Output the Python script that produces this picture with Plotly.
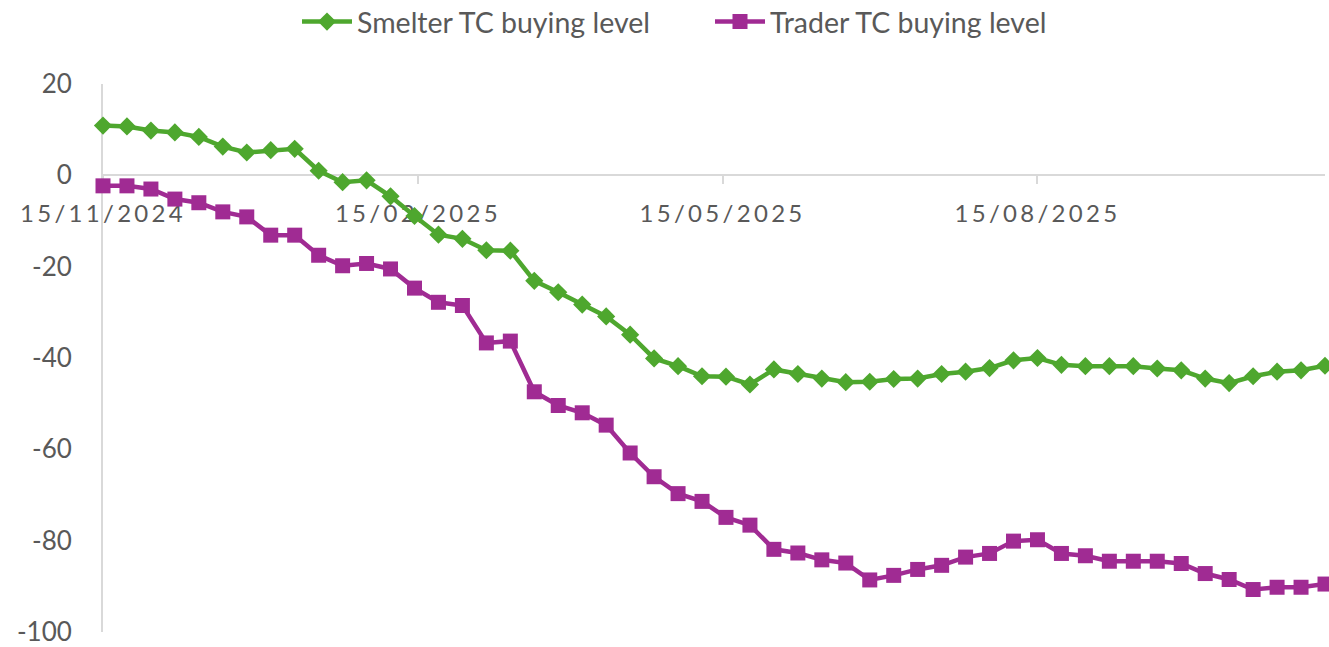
import plotly.graph_objects as go

# weekly observation dates
dates = [
    "2024-11-15", "2024-11-22", "2024-11-29", "2024-12-06", "2024-12-13", "2024-12-20", "2024-12-27",
    "2025-01-03", "2025-01-10", "2025-01-17", "2025-01-24", "2025-01-31",
    "2025-02-07", "2025-02-14", "2025-02-21", "2025-02-28",
    "2025-03-07", "2025-03-14", "2025-03-21", "2025-03-28",
    "2025-04-04", "2025-04-11", "2025-04-18", "2025-04-25",
    "2025-05-02", "2025-05-09", "2025-05-16", "2025-05-23", "2025-05-30",
    "2025-06-06", "2025-06-13", "2025-06-20", "2025-06-27",
    "2025-07-04", "2025-07-11", "2025-07-18", "2025-07-25",
    "2025-08-01", "2025-08-08", "2025-08-15", "2025-08-22", "2025-08-29",
    "2025-09-05", "2025-09-12", "2025-09-19", "2025-09-26",
    "2025-10-03", "2025-10-10", "2025-10-17", "2025-10-24", "2025-10-31",
    "2025-11-07",
]

smelter = [
    10.9, 10.7, 9.8, 9.4, 8.4, 6.3, 5.0, 5.5, 5.8, 1.0,
    -1.5, -1.1, -4.6, -8.9, -13.0, -13.9, -16.4, -16.5, -23.1, -25.6,
    -28.3, -30.9, -34.9, -40.1, -41.8, -44.0, -44.1, -45.8, -42.5, -43.5,
    -44.5, -45.3, -45.2, -44.6, -44.5, -43.5, -43.0, -42.2, -40.5, -40.0,
    -41.5, -41.8, -41.8, -41.8, -42.3, -42.7, -44.5, -45.5, -44.0, -43.0,
    -42.7, -41.7,
]

trader = [
    -2.3, -2.3, -3.0, -5.2, -6.0, -8.0, -9.1, -13.1, -13.1, -17.5,
    -19.8, -19.3, -20.5, -24.7, -27.8, -28.5, -36.7, -36.3, -47.4, -50.4,
    -52.0, -54.7, -60.8, -66.0, -69.7, -71.4, -74.9, -76.6, -81.9, -82.7,
    -84.2, -84.9, -88.6, -87.6, -86.3, -85.4, -83.6, -82.8, -80.1, -79.8,
    -82.8, -83.3, -84.5, -84.5, -84.5, -85.0, -87.2, -88.5, -90.7, -90.2,
    -90.2, -89.5,
]

tick_dates = ["2024-11-15", "2025-02-15", "2025-05-15", "2025-08-15"]
tick_labels = ["15/11/2024", "15/02/2025", "15/05/2025", "15/08/2025"]
y_ticks = [20, 0, -20, -40, -60, -80, -100]

GREEN = "#4EA72E"
PURPLE = "#A02B93"
GREY_TXT = "#595959"
AXIS = "#D9D9D9"

fig = go.Figure()

fig.add_trace(go.Scatter(x=dates, y=smelter, mode="lines+markers",
                         name="Smelter TC buying level",
                         line=dict(color=GREEN, width=4.5),
                         marker=dict(symbol="diamond", size=14, color=GREEN),
                         cliponaxis=False))

fig.add_trace(go.Scatter(x=dates, y=trader, mode="lines+markers",
                         name="Trader TC buying level",
                         line=dict(color=PURPLE, width=4.5),
                         marker=dict(symbol="square", size=15, color=PURPLE),
                         cliponaxis=False))

fig.update_layout(
    width=1329, height=647,
    margin=dict(l=103, r=4, t=84, b=15, autoexpand=False),
    plot_bgcolor="white", paper_bgcolor="white",
    font=dict(family="Lato, sans-serif", color=GREY_TXT, size=25),
    showlegend=True,
    legend=dict(orientation="h", xref="container", yref="container",
                x=297 / 1329, xanchor="left", y=1 - 22 / 647, yanchor="middle",
                font=dict(size=28.5, color=GREY_TXT), itemwidth=50,
                entrywidth=348, tracegroupgap=0),
)

# x axis drawn at y = 0 (0 sits at 100/120 of the plot height); labels letter-spaced like the original
fig.update_xaxes(type="date", range=[dates[0], dates[-1]],
                 anchor="free", position=100 / 120, automargin=False,
                 showline=True, linecolor=AXIS, linewidth=2,
                 ticks="outside", ticklen=8, tickcolor=AXIS, tickwidth=2,
                 tickvals=tick_dates,
                 ticktext=['<span style="letter-spacing:3.3px">' + t + '</span>' for t in tick_labels],
                 tickfont=dict(size=24, color=GREY_TXT),
                 ticklabelstandoff=9,
                 showgrid=False, zeroline=False, layer="below traces")

fig.update_yaxes(range=[-100, 20], tickvals=y_ticks, ticktext=[str(v) for v in y_ticks],
                 automargin=False, ticklabeloverflow="allow",
                 showline=True, linecolor=AXIS, linewidth=2,
                 ticks="", ticklabelstandoff=24,
                 tickfont=dict(size=26, color=GREY_TXT),
                 showgrid=False, zeroline=False, layer="below traces")

# drop the default 8px body margin so the figure fills the window exactly
fig.write_html("out.html", config={"displayModeBar": False},
               post_script="document.body.style.margin = '0';")
